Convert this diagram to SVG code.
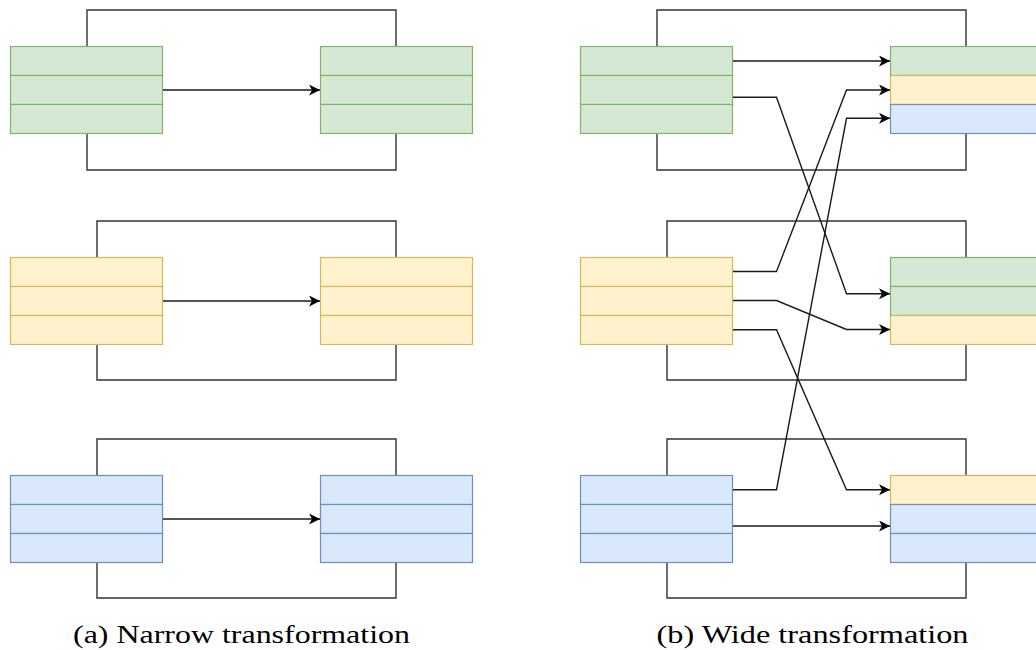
<svg xmlns="http://www.w3.org/2000/svg" width="1036" height="650" viewBox="0 0 1036 650">
<style>
.g rect{fill:#d5e8d4;stroke:#82b366;stroke-width:1.2}
.y rect{fill:#fff2cc;stroke:#d6b656;stroke-width:1.2}
.b rect{fill:#dae8fc;stroke:#6c8ebf;stroke-width:1.2}
.frame{fill:none;stroke:#333;stroke-width:1.4}
.edge{fill:none;stroke:#1a1a1a;stroke-width:1.4;marker-end:url(#arr)}
.cap{font-family:'Liberation Serif',serif;font-size:25px;fill:#000}
</style>
<defs>
<marker id="arr" markerUnits="userSpaceOnUse" markerWidth="13" markerHeight="12" refX="11" refY="5.5" orient="auto">
<path d="M0,0 L11,5.5 L0,11 L3,5.5 z" fill="#000"/>
</marker>
</defs>
<g id="frames">
<path class="frame" d="M87,46.5 V10 H396 V46.5 M87,133.5 V170 H396 V133.5"/>
<path class="frame" d="M97,257.5 V221 H396 V257.5 M97,344.5 V380 H396 V344.5"/>
<path class="frame" d="M97,475.5 V439 H396 V475.5 M97,562.5 V598 H396 V562.5"/>
<path class="frame" d="M657,46.5 V10 H966 V46.5 M657,133.5 V170 H966 V133.5"/>
<path class="frame" d="M667,257.5 V221 H966 V257.5 M667,344.5 V380 H966 V344.5"/>
<path class="frame" d="M667,475.5 V439 H966 V475.5 M667,562.5 V598 H966 V562.5"/>
</g>
<g id="a-src-green" class="g"><rect x="10.5" y="46.5" width="152" height="29"/><rect x="10.5" y="75.5" width="152" height="29"/><rect x="10.5" y="104.5" width="152" height="29"/></g>
<g id="a-dst-green" class="g"><rect x="320.5" y="46.5" width="152" height="29"/><rect x="320.5" y="75.5" width="152" height="29"/><rect x="320.5" y="104.5" width="152" height="29"/></g>
<g id="a-src-yellow" class="y"><rect x="10.5" y="257.5" width="152" height="29"/><rect x="10.5" y="286.5" width="152" height="29"/><rect x="10.5" y="315.5" width="152" height="29"/></g>
<g id="a-dst-yellow" class="y"><rect x="320.5" y="257.5" width="152" height="29"/><rect x="320.5" y="286.5" width="152" height="29"/><rect x="320.5" y="315.5" width="152" height="29"/></g>
<g id="a-src-blue" class="b"><rect x="10.5" y="475.5" width="152" height="29"/><rect x="10.5" y="504.5" width="152" height="29"/><rect x="10.5" y="533.5" width="152" height="29"/></g>
<g id="a-dst-blue" class="b"><rect x="320.5" y="475.5" width="152" height="29"/><rect x="320.5" y="504.5" width="152" height="29"/><rect x="320.5" y="533.5" width="152" height="29"/></g>
<g id="b-src-green" class="g"><rect x="580.5" y="46.5" width="152" height="29"/><rect x="580.5" y="75.5" width="152" height="29"/><rect x="580.5" y="104.5" width="152" height="29"/></g>
<g id="b-src-yellow" class="y"><rect x="580.5" y="257.5" width="152" height="29"/><rect x="580.5" y="286.5" width="152" height="29"/><rect x="580.5" y="315.5" width="152" height="29"/></g>
<g id="b-src-blue" class="b"><rect x="580.5" y="475.5" width="152" height="29"/><rect x="580.5" y="504.5" width="152" height="29"/><rect x="580.5" y="533.5" width="152" height="29"/></g>
<g id="b-dst-1"><g class="g"><rect x="890.5" y="46.5" width="152" height="29"/></g><g class="y"><rect x="890.5" y="75.5" width="152" height="29"/></g><g class="b"><rect x="890.5" y="104.5" width="152" height="29"/></g></g>
<g id="b-dst-2"><g class="g"><rect x="890.5" y="257.5" width="152" height="29"/><rect x="890.5" y="286.5" width="152" height="29"/></g><g class="y"><rect x="890.5" y="315.5" width="152" height="29"/></g></g>
<g id="b-dst-3"><g class="y"><rect x="890.5" y="475.5" width="152" height="29"/></g><g class="b"><rect x="890.5" y="504.5" width="152" height="29"/><rect x="890.5" y="533.5" width="152" height="29"/></g></g>
<g id="connectors">
<path class="edge" d="M163,90 H320"/>
<path class="edge" d="M163,301 H320"/>
<path class="edge" d="M163,519 H320"/>
<path class="edge" d="M733,61 H890"/>
<path class="edge" d="M733,97.3 H776.5 L846.5,293.7 H890"/>
<path class="edge" d="M733,271.5 H776.5 L846.5,90 H890"/>
<path class="edge" d="M733,300.5 H776.5 L846.5,329.5 H890"/>
<path class="edge" d="M733,329.7 H776.5 L846.5,489.7 H890"/>
<path class="edge" d="M733,489.7 H776.5 L846.5,118.3 H890"/>
<path class="edge" d="M733,526 H890"/>
</g>
<g id="captions">
<text class="cap" x="241.5" y="643" text-anchor="middle" textLength="337" lengthAdjust="spacingAndGlyphs">(a) Narrow transformation</text>
<text class="cap" x="812.5" y="643" text-anchor="middle" textLength="312" lengthAdjust="spacingAndGlyphs">(b) Wide transformation</text>
</g>
</svg>
